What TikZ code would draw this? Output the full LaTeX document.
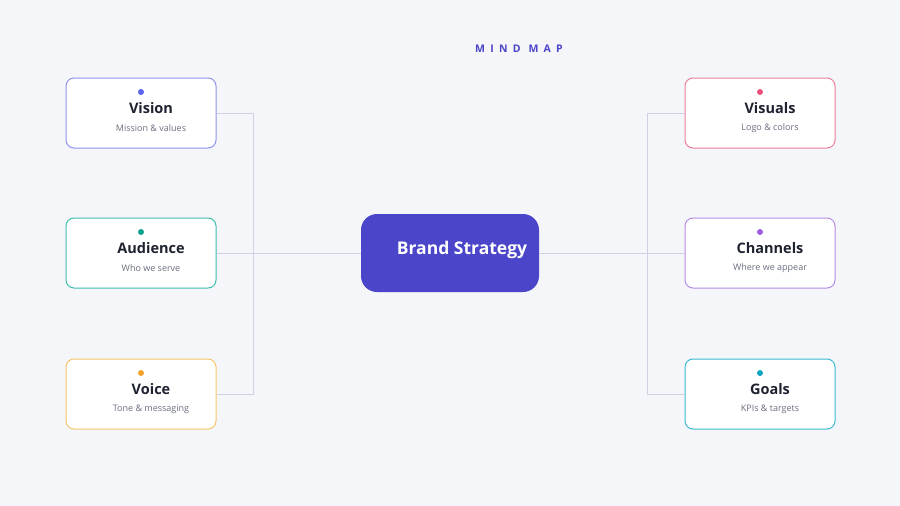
\documentclass[tikz,border=0pt]{standalone}
\usepackage{fontspec}
\setmainfont{Open Sans}
\newfontfamily\spaced{Open Sans}[LetterSpace=50]
\usetikzlibrary{positioning}

\definecolor{bg}{HTML}{F5F6FA}
\definecolor{linkgray}{HTML}{D0D1E6}
\definecolor{hubblue}{HTML}{4B45C9}
\definecolor{titleink}{HTML}{1F2230}
\definecolor{subink}{HTML}{6B7080}
\definecolor{visionline}{HTML}{8E94E8}  \definecolor{visiondot}{HTML}{5B63F0}
\definecolor{audienceline}{HTML}{3DBDAD}\definecolor{audiencedot}{HTML}{12A08F}
\definecolor{voiceline}{HTML}{F3C66A}   \definecolor{voicedot}{HTML}{F0A32A}
\definecolor{visualsline}{HTML}{EE7F9C} \definecolor{visualsdot}{HTML}{EC4F7C}
\definecolor{channelsline}{HTML}{B48CE6}\definecolor{channelsdot}{HTML}{9A5FE0}
\definecolor{goalsline}{HTML}{3BBCD0}   \definecolor{goalsdot}{HTML}{0EA5C5}

\begin{document}
\begin{tikzpicture}[x=1pt,y=-1pt,
  box/.style={draw, fill=white, line width=1pt, rounded corners=8pt,
    minimum width=150pt, minimum height=70pt, inner sep=0pt},
  dot/.style={circle, inner sep=0pt, minimum size=6pt},
  boxtitle/.style={font=\fontsize{14.5}{16}\selectfont\bfseries, text=titleink, inner sep=0pt},
  boxsub/.style={font=\fontsize{9}{10}\selectfont, text=subink, inner sep=0pt},
  link/.style={draw=linkgray, line width=1pt}]

% Background
  \fill[bg] (0,0) rectangle (900,506);
  \useasboundingbox (0,0) rectangle (900,506);

  \node[font=\spaced\fontsize{10.5}{12}\selectfont\bfseries, text=hubblue] (maptitle) at (519,49) {MIND MAP};

% Connectors
  \coordinate (trunkL) at (253,253);
  \coordinate (trunkR) at (647,253);

% Hub
  \node[fill=hubblue, rounded corners=16pt, minimum width=178pt, minimum height=78pt] (brand) at (450,253) {};
  \node[font=\fontsize{17.5}{20}\selectfont\bfseries, text=white, inner sep=0pt] (brandtext) at ([xshift=12pt,yshift=3.5pt]brand.center) {Brand Strategy};

% Branches
  \foreach \nm/\ttl/\sub/\x/\y in {vision/Vision/{Mission \& values}/141/113,
                                   audience/Audience/{Who we serve}/141/253,
                                   voice/Voice/{Tone \& messaging}/141/394,
                                   visuals/Visuals/{Logo \& colors}/760/113,
                                   channels/Channels/{Where we appear}/760/253,
                                   goals/Goals/{KPIs \& targets}/760/394}
  {
    \node[box, draw=\nm line] (\nm) at (\x,\y) {};
    \node[dot, fill=\nm dot] (\nm-dot) at ([yshift=21pt]\nm.center) {};
    \node[boxtitle] (\nm-title) at ([xshift=10pt,yshift=5pt]\nm.center) {\ttl};
    \node[boxsub] (\nm-sub) at ([xshift=10pt,yshift=-15pt]\nm.center) {\sub};
  }

  \path[link] (vision.east) -| (trunkL);
  \path[link] (voice.east) -| (trunkL);
  \path[link] (audience.east) -- (brand.west);
  \path[link] (visuals.west) -| (trunkR);
  \path[link] (goals.west) -| (trunkR);
  \path[link] (brand.east) -- (channels.west);

\end{tikzpicture}
\end{document}
